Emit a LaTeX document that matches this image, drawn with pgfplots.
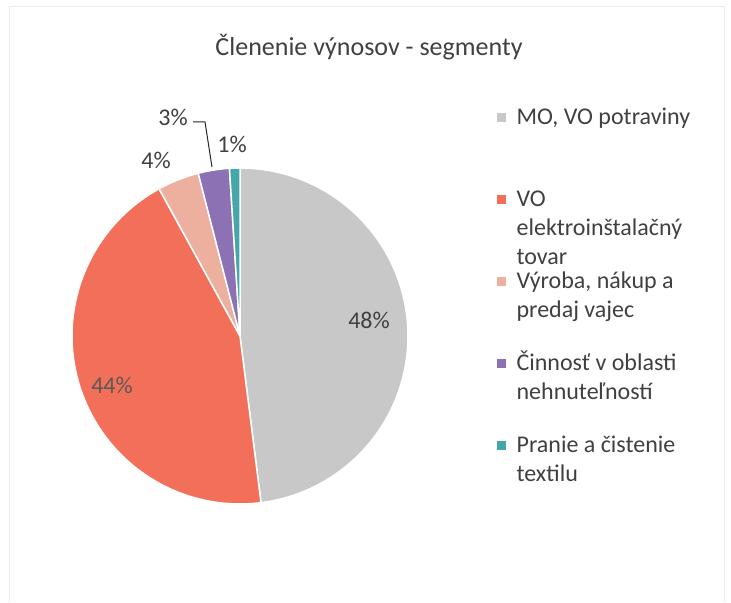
\documentclass[border=0pt]{standalone}
\usepackage{pgfplots}
\pgfplotsset{compat=1.18}
\usepackage{pgfplotstable}
\usepackage{fontspec}
\setmainfont{Carlito}

\definecolor{cGray}{HTML}{C8C8C8}
\definecolor{cRed}{HTML}{F2705A}
\definecolor{cPeach}{HTML}{EDB09F}
\definecolor{cPurple}{HTML}{8C72B4}
\definecolor{cTeal}{HTML}{45A6AC}
\definecolor{txt}{HTML}{404040}

\pgfplotstableread[col sep=comma]{
name,value,color
MO VO potraviny,48,cGray
VO elektroinstalacny tovar,44,cRed
Vyroba nakup a predaj vajec,4,cPeach
Cinnost v oblasti nehnutelnosti,3,cPurple
Pranie a cistenie textilu,1,cTeal
}\piedata

\begin{document}
\begin{tikzpicture}
\begin{axis}[
  x=1pt, y=1pt,
  xmin=0, xmax=731, ymin=0, ymax=602,
  hide axis, clip=false,
  legend image code/.code={\fill[#1, draw=none] (0pt,2pt) rectangle (9pt,11pt); \path (0pt,0pt) (19pt,0pt);},
  legend style={at={(axis cs:497,493)}, anchor=north west, draw=none, fill=none,
    inner sep=0pt, row sep=0pt, nodes={inner sep=0pt, text depth=},
    cells={anchor=base west}, font=\fontsize{24}{29}\selectfont, text=txt},
]
\path (axis cs:0,0) rectangle (axis cs:731,602);
\draw[black!8] (axis cs:9,0) -- (axis cs:9,596) -- (axis cs:724,596) -- (axis cs:724,0);

\def\cum{0}
\pgfplotsforeachungrouped \i in {0,...,4}{%
  \pgfplotstablegetelem{\i}{value}\of\piedata \let\v\pgfplotsretval
  \pgfplotstablegetelem{\i}{color}\of\piedata \let\c\pgfplotsretval
  \pgfmathsetmacro\a{90-3.6*\cum}%
  \pgfmathsetmacro\b{90-3.6*(\cum+\v)}%
  \edef\temp{\noexpand\addplot[forget plot, fill=\c, draw=white, line width=1.5pt, line join=round, domain=\b:\a, samples=90] ({240+168*cos(x)},{266+168*sin(x)}) -- (axis cs:240,266) -- cycle;}%
  \temp
  \pgfmathsetmacro\cum{\cum+\v}%
  \xdef\cum{\cum}%
}

\addplot[forget plot, black!85, line width=1pt] coordinates {(193,480) (205,480) (212,435)};

\node[anchor=base, font=\fontsize{26}{31}\selectfont, text=txt] at (axis cs:369,546) {Členenie výnosov - segmenty};
\node[font=\fontsize{24}{28}\selectfont, text=txt] at (axis cs:369,282) {48\%};
\node[font=\fontsize{24}{28}\selectfont, text=black!65] at (axis cs:112,217) {44\%};
\node[font=\fontsize{24}{28}\selectfont, text=txt] at (axis cs:156,442) {4\%};
\node[font=\fontsize{24}{28}\selectfont, text=txt] at (axis cs:173,485) {3\%};
\node[font=\fontsize{24}{28}\selectfont, text=txt] at (axis cs:232,458) {1\%};

\addlegendimage{fill=cGray}
\addlegendentry{\raisebox{0pt}[15pt][67pt]{\parbox[t]{200pt}{MO, VO potraviny}}}
\addlegendimage{fill=cRed}
\addlegendentry{\raisebox{0pt}[15pt][67pt]{\parbox[t]{200pt}{VO\\elektroinštalačný\\tovar}}}
\addlegendimage{fill=cPeach}
\addlegendentry{\raisebox{0pt}[15pt][67pt]{\parbox[t]{200pt}{Výroba, nákup a\\predaj vajec}}}
\addlegendimage{fill=cPurple}
\addlegendentry{\raisebox{0pt}[15pt][67pt]{\parbox[t]{200pt}{Činnosť v oblasti\\nehnuteľností}}}
\addlegendimage{fill=cTeal}
\addlegendentry{\raisebox{0pt}[15pt][67pt]{\parbox[t]{200pt}{Pranie a čistenie\\textilu}}}
\end{axis}
\end{tikzpicture}
\end{document}
